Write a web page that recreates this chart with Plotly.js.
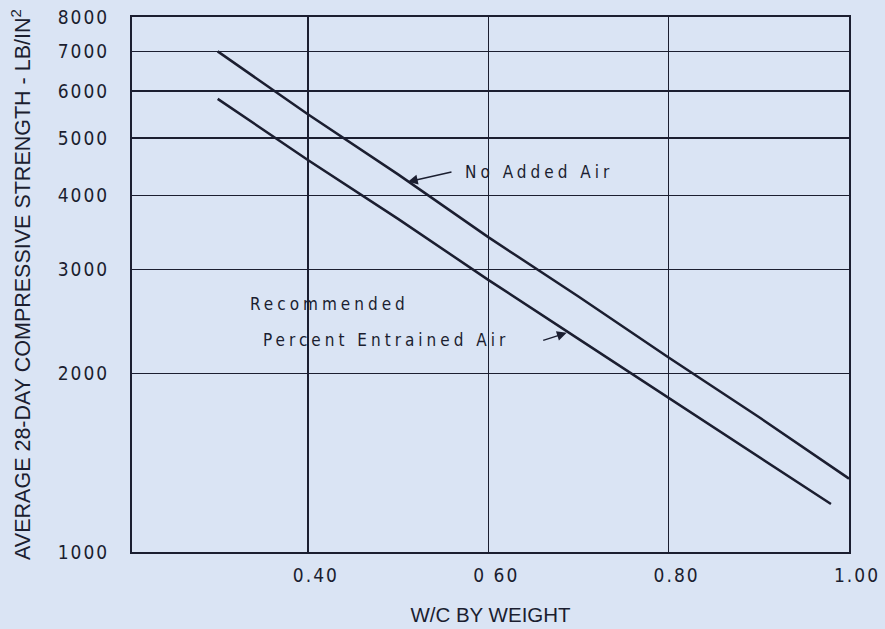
<!DOCTYPE html>
<html>
<head>
<meta charset="utf-8">
<script src="https://cdn.plot.ly/plotly-3.0.1.min.js"></script>
<style>html,body{margin:0;padding:0;background:#dae4f4;}#chart{width:885px;height:629px;}</style>
</head>
<body>
<div id="chart"></div>
<script>
// Data
const wcNoAir = [0.30, 0.40, 0.50, 0.60, 0.70, 0.80, 0.90, 1.00];
const strengthNoAir = [7000, 5480, 4340, 3400, 2700, 2130, 1690, 1330];
const wcEntrained = [0.30, 0.40, 0.50, 0.60, 0.70, 0.80, 0.90, 0.98];
const strengthEntrained = [5820, 4590, 3650, 2880, 2290, 1820, 1450, 1205];

const yTickVals = [1000, 2000, 3000, 4000, 5000, 6000, 7000, 8000];
const yTickText = ["1000", "2000", "3000", "4000", "5000", "6000", "7000", "8000"];
const xTickVals = [0.40, 0.60, 0.80, 1.00];
const xTickText = ["0.40", "0 60", "0.80", "1.00"];

const ink = "#1b1e30";
const bg = "#dae4f4";
const sp = s => '<span style="letter-spacing:2px">' + s + '</span>';
const sp2 = s => '<span style="letter-spacing:4px">' + s + '</span>';

const traces = [
  {x: wcNoAir, y: strengthNoAir, mode: "lines", line: {color: ink, width: 2.5}, hoverinfo: "skip"},
  {x: wcEntrained, y: strengthEntrained, mode: "lines", line: {color: ink, width: 2.5}, hoverinfo: "skip"}
];

const L = v => Math.log10(v);

const layout = {
  width: 885, height: 629,
  paper_bgcolor: bg, plot_bgcolor: bg,
  showlegend: false,
  margin: {l: 132, r: 36, t: 17, b: 77},
  font: {family: "Liberation Sans Narrow, DejaVu Sans Condensed, Liberation Sans, sans-serif", color: ink},
  xaxis: {
    range: [0.205, 1.0],
    tickvals: xTickVals, ticktext: xTickText.map(sp),
    tickfont: {size: 19, color: ink},
    ticklabelshift: 8,
    ticklabelstandoff: 5,
    showgrid: true, gridcolor: ink, gridwidth: 1.5,
    showline: true, linecolor: ink, linewidth: 2, mirror: true,
    ticks: "", zeroline: false,
    title: {text: "W/C BY WEIGHT", font: {family: "Liberation Sans, Arial, sans-serif", size: 20.5, color: ink}, standoff: 23}
  },
  yaxis: {
    type: "log",
    range: [L(1000), L(8000)],
    tickvals: yTickVals, ticktext: yTickText.map(sp),
    tickfont: {size: 19, color: ink},
    ticklabelstandoff: 17,
    showgrid: true, gridcolor: ink, gridwidth: 1.5,
    showline: true, linecolor: ink, linewidth: 2, mirror: true,
    ticks: "", zeroline: false,
    title: {text: "AVERAGE 28-DAY COMPRESSIVE STRENGTH - LB/IN<sup>2</sup>", font: {family: "Liberation Sans, Arial, sans-serif", size: 21.5, color: ink}, standoff: 21}
  },
  annotations: [
    {x: 0.572, y: L(4385), xref: "x", yref: "y", text: sp2("No Added Air"), showarrow: false, xanchor: "left", yanchor: "middle", font: {size: 17, color: ink}},
    {x: 0.511, y: L(4217), xref: "x", yref: "y", text: "", showarrow: true, arrowhead: 2, arrowsize: 1.3, arrowwidth: 1.5, arrowcolor: ink, ax: 45, ay: -10, standoff: 0},
    {x: 0.3335, y: L(2624), xref: "x", yref: "y", text: sp2("Recommended"), showarrow: false, xanchor: "left", yanchor: "middle", font: {size: 17, color: ink}},
    {x: 0.348, y: L(2280), xref: "x", yref: "y", text: sp2("Percent Entrained Air"), showarrow: false, xanchor: "left", yanchor: "middle", font: {size: 17, color: ink}},
    {x: 0.687, y: L(2344), xref: "x", yref: "y", text: "", showarrow: true, arrowhead: 2, arrowsize: 1.3, arrowwidth: 1.5, arrowcolor: ink, ax: -25, ay: 8, standoff: 0}
  ]
};

Plotly.newPlot("chart", traces, layout, {displayModeBar: false, staticPlot: true});
</script>
</body>
</html>
